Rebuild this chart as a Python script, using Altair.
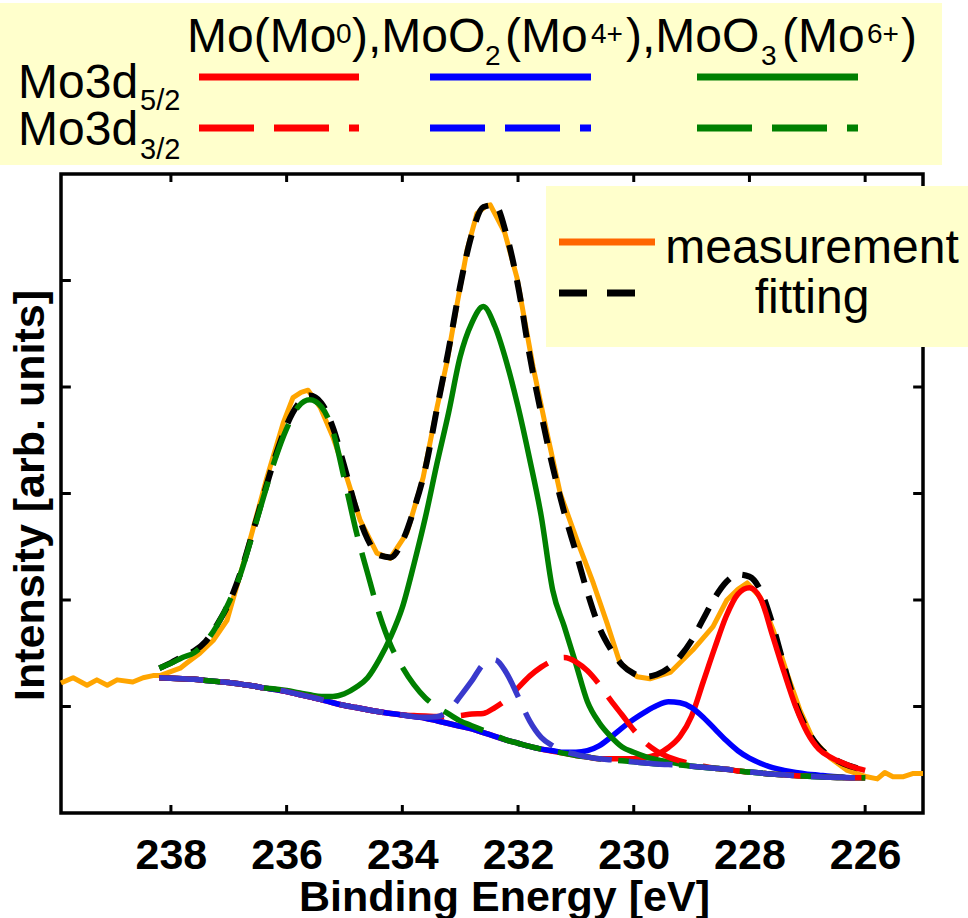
import altair as alt
import pandas as pd

# ---------------- data ----------------
# measured spectrum (orange)
MEAS_E = [239.90, 239.69, 239.45, 239.28, 239.10, 238.93, 238.66, 238.48, 238.31, 238.19,
          237.84, 237.72, 237.50, 237.27, 237.03, 236.93, 236.68, 236.34, 236.06, 235.89,
          235.75, 235.63, 235.42, 235.20, 234.96, 234.73, 234.44, 234.21, 233.92, 233.64,
          233.40, 233.23, 233.05, 232.88, 232.71, 232.55, 232.48, 232.23, 232.02, 231.74,
          231.50, 231.27, 230.98, 230.70, 230.46, 230.24, 229.94, 229.72, 229.37, 228.98,
          228.63, 228.39, 228.20, 228.04, 227.82, 227.59, 227.35, 227.13, 226.90, 226.61,
          226.31, 225.97, 225.79, 225.66, 225.52, 225.35, 225.18, 225.00]
MEAS_I = [1.22, 1.27, 1.20, 1.25, 1.20, 1.25, 1.23, 1.27, 1.29, 1.29,
          1.36, 1.41, 1.50, 1.62, 1.81, 2.00, 2.47, 3.15, 3.66, 3.90,
          3.95, 3.97, 3.81, 3.53, 3.15, 2.75, 2.44, 2.39, 2.63, 3.15,
          3.81, 4.23, 4.79, 5.29, 5.63, 5.70, 5.71, 5.45, 5.03, 4.19,
          3.57, 3.00, 2.56, 2.16, 1.78, 1.41, 1.28, 1.26, 1.32, 1.53,
          1.75, 2.00, 2.10, 2.16, 2.03, 1.72, 1.31, 0.97, 0.69, 0.52,
          0.40, 0.34, 0.32, 0.38, 0.34, 0.34, 0.37, 0.37]

# energy grid of the fitted curves
FIT_E = [238.2, 238.0, 237.8, 237.6, 237.4, 237.2, 237.0, 236.8, 236.6, 236.4,
         236.2, 236.0, 235.8, 235.6, 235.4, 235.2, 235.0, 234.8, 234.6, 234.4,
         234.2, 234.0, 233.8, 233.6, 233.4, 233.2, 233.0, 232.8, 232.6, 232.4,
         232.2, 232.0, 231.8, 231.6, 231.4, 231.2, 231.0, 230.8, 230.6, 230.4,
         230.2, 230.0, 229.8, 229.6, 229.4, 229.2, 229.0, 228.8, 228.6, 228.4,
         228.2, 228.0, 227.8, 227.6, 227.4, 227.2, 227.0, 226.8, 226.6, 226.4,
         226.2, 226.0]

# total fitted envelope (black dashed)
FIT_I = [1.36, 1.41, 1.47, 1.52, 1.61, 1.77, 1.97, 2.25, 2.61, 2.98,
         3.34, 3.64, 3.84, 3.92, 3.85, 3.62, 3.25, 2.86, 2.57, 2.42,
         2.40, 2.55, 2.85, 3.24, 3.80, 4.35, 4.95, 5.43, 5.69, 5.71,
         5.43, 4.95, 4.30, 3.75, 3.25, 2.82, 2.45, 2.07, 1.75, 1.54,
         1.39, 1.31, 1.28, 1.30, 1.36, 1.47, 1.62, 1.82, 2.02, 2.17,
         2.24, 2.22, 2.08, 1.77, 1.38, 1.02, 0.78, 0.62, 0.53, 0.47,
         0.43, 0.40]

# background shared by all fitted components
BASELINE = [1.27, 1.265, 1.26, 1.255, 1.245, 1.235, 1.225, 1.21, 1.195, 1.175,
            1.16, 1.14, 1.115, 1.09, 1.065, 1.035, 1.01, 0.99, 0.97, 0.95,
            0.935, 0.92, 0.905, 0.89, 0.865, 0.84, 0.815, 0.79, 0.755, 0.72,
            0.685, 0.655, 0.625, 0.60, 0.58, 0.56, 0.54, 0.525, 0.51, 0.50,
            0.49, 0.48, 0.47, 0.46, 0.455, 0.45, 0.44, 0.43, 0.42, 0.41,
            0.395, 0.385, 0.375, 0.365, 0.36, 0.35, 0.345, 0.34, 0.335, 0.333,
            0.33, 0.33]

# height of each component above the background, on FIT_E
MO_D52 = [0, 0, 0, 0, 0, 0, 0, 0, 0, 0,
          0, 0, 0, 0, 0, 0, 0, 0, 0, 0,
          0, 0, 0, 0, 0, 0, 0, 0, 0, 0,
          0, 0, 0, 0, 0, 0, 0, 0, 0, 0.01,
          0.02, 0.03, 0.05, 0.09, 0.16, 0.27, 0.47, 0.80, 1.13, 1.44,
          1.66, 1.73, 1.63, 1.30, 0.96, 0.65, 0.41, 0.26, 0.19, 0.14,
          0.10, 0.07]
MOO2_D52 = [0, 0, 0, 0, 0, 0, 0, 0, 0, 0,
            0, 0, 0, 0, 0, 0, 0, 0, 0, 0,
            0, 0, 0, 0, 0, 0, 0, 0, 0, 0,
            0, 0, 0, 0, 0.005, 0.01, 0.03, 0.06, 0.12, 0.21,
            0.31, 0.40, 0.48, 0.55, 0.59, 0.585, 0.55, 0.47, 0.37, 0.27,
            0.19, 0.13, 0.09, 0.06, 0.04, 0.03, 0.02, 0.015, 0.01, 0.005,
            0, 0]
MOO3_D52 = [0, 0, 0, 0, 0, 0, 0, 0, 0, 0,
            0.005, 0.01, 0.015, 0.02, 0.03, 0.06, 0.11, 0.19, 0.30, 0.49,
            0.72, 1.01, 1.43, 1.89, 2.42, 2.92, 3.47, 3.81, 4.00, 3.85,
            3.55, 3.16, 2.70, 2.19, 1.51, 1.19, 0.86, 0.52, 0.34, 0.22,
            0.13, 0.09, 0.06, 0.04, 0.025, 0.01, 0, 0, 0, 0,
            0, 0, 0, 0, 0, 0, 0, 0, 0, 0,
            0, 0]
MO_D32 = [0, 0, 0, 0, 0, 0, 0, 0, 0, 0,
          0, 0, 0, 0, 0, 0, 0, 0, 0, 0,
          0, 0, 0.01, 0.02, 0.04, 0.07, 0.10, 0.14, 0.18, 0.27,
          0.38, 0.52, 0.66, 0.77, 0.85, 0.90, 0.88, 0.81, 0.70, 0.56,
          0.43, 0.30, 0.19, 0.12, 0.07, 0.04, 0.02, 0.01, 0, 0,
          0, 0, 0, 0, 0, 0, 0, 0, 0, 0,
          0, 0]
MOO2_D32 = [0, 0, 0, 0, 0, 0, 0, 0, 0, 0,
            0, 0, 0, 0, 0, 0, 0, 0, 0, 0,
            0, 0, 0, 0.01, 0.04, 0.12, 0.28, 0.45, 0.64, 0.72,
            0.63, 0.44, 0.24, 0.11, 0.05, 0.02, 0.01, 0, 0, 0,
            0, 0, 0, 0, 0, 0, 0, 0, 0, 0,
            0, 0, 0, 0, 0, 0, 0, 0, 0, 0,
            0, 0]
MOO3_D32 = [0.09, 0.14, 0.20, 0.25, 0.36, 0.53, 0.75, 1.03, 1.40, 1.79,
            2.16, 2.47, 2.70, 2.79, 2.75, 2.55, 2.12, 1.66, 1.28, 0.92,
            0.64, 0.45, 0.30, 0.19, 0.13, 0.09, 0.05, 0.03, 0.02, 0.01,
            0, 0, 0, 0, 0, 0, 0, 0, 0, 0,
            0, 0, 0, 0, 0, 0, 0, 0, 0, 0,
            0, 0, 0, 0, 0, 0, 0, 0, 0, 0,
            0, 0]

X_TICKS = [238, 236, 234, 232, 230, 228, 226]
Y_TICKS = [1, 2, 3, 4, 5]
X_DOMAIN = [225.0, 239.9]
Y_DOMAIN = [0, 6]

# ---------------- layout / style ----------------
W, H = 862, 639
FONT = "Liberation Sans"
RED, BLUE, GREEN = "#FF0000", "#0000FF", "#008000"
BLUE_DASH = "#3939CC"
ORANGE = "#FFA500"
BOX = "#FFFFCC"

xs = alt.Scale(domain=X_DOMAIN, reverse=True, nice=False, zero=False)
ys = alt.Scale(domain=Y_DOMAIN, nice=False, zero=False)

x_axis = alt.Axis(values=X_TICKS, format="d", ticks=False, tickSize=0, domain=False, grid=False,
                  labelFont=FONT, labelFontWeight="bold", labelFontSize=43, labelPadding=21,
                  labelColor="black", labelFlush=False,
                  title="Binding Energy [eV]", titleFont=FONT, titleFontWeight="bold",
                  titleFontSize=43, titleColor="black", titleX=443, titleY=97,
                  titleAlign="center", titleBaseline="alphabetic")
y_axis = alt.Axis(values=Y_TICKS, labels=False, ticks=False, domain=False, grid=False,
                  title="Intensity [arb. units]", titleFont=FONT, titleFontWeight="bold",
                  titleFontSize=43, titleColor="black", titleX=-18, titleY=321,
                  titleAngle=270, titleAlign="center", titleBaseline="alphabetic")

meas_df = pd.DataFrame({"E": MEAS_E, "I": MEAS_I})
meas = alt.Chart(meas_df).mark_line(color=ORANGE, strokeWidth=5, strokeJoin="round").encode(
    x=alt.X("E:Q", scale=xs, axis=x_axis),
    y=alt.Y("I:Q", scale=ys, axis=y_axis),
)

fit_df = pd.DataFrame({"E": FIT_E, "I": FIT_I})
fit = alt.Chart(fit_df).mark_line(color="black", strokeWidth=6, strokeDash=[22, 14],
                                  interpolate="monotone").encode(
    x=alt.X("E:Q", scale=xs), y=alt.Y("I:Q", scale=ys))


def component(excess, color, dash):
    df = pd.DataFrame({"E": FIT_E,
                       "I": [round(b + e, 4) for b, e in zip(BASELINE, excess)]})
    kw = dict(color=color, strokeWidth=5.5, interpolate="monotone")
    if dash:
        kw["strokeDash"] = [44, 17]
    return alt.Chart(df).mark_line(**kw).encode(
        x=alt.X("E:Q", scale=xs), y=alt.Y("I:Q", scale=ys))


comps = [
    component(MO_D52, RED, False),
    component(MOO2_D52, BLUE, False),
    component(MOO3_D52, GREEN, False),
    component(MO_D32, RED, True),
    component(MOO3_D32, GREEN, True),
    component(MOO2_D32, BLUE_DASH, True),
]

# inward ticks on all four sides
XT = 0.075   # tick length in y units (~8 px)
YT = 0.17    # tick length in x units (~10 px)
bt = pd.DataFrame({"E": X_TICKS, "a": [Y_DOMAIN[0]] * len(X_TICKS), "b": [Y_DOMAIN[0] + XT] * len(X_TICKS)})
tt = pd.DataFrame({"E": X_TICKS, "a": [Y_DOMAIN[1]] * len(X_TICKS), "b": [Y_DOMAIN[1] - XT] * len(X_TICKS)})
lt = pd.DataFrame({"I": Y_TICKS, "a": [X_DOMAIN[1]] * len(Y_TICKS), "b": [X_DOMAIN[1] - YT] * len(Y_TICKS)})
rt = pd.DataFrame({"I": Y_TICKS, "a": [X_DOMAIN[0]] * len(Y_TICKS), "b": [X_DOMAIN[0] + YT] * len(Y_TICKS)})
tick_x = [alt.Chart(d).mark_rule(color="black", strokeWidth=3).encode(
    x=alt.X("E:Q", scale=xs), y=alt.Y("a:Q", scale=ys), y2="b:Q") for d in (bt, tt)]
tick_y = [alt.Chart(d).mark_rule(color="black", strokeWidth=3).encode(
    y=alt.Y("I:Q", scale=ys), x=alt.X("a:Q", scale=xs), x2="b:Q") for d in (lt, rt)]

one = pd.DataFrame({"k": [0]})


def box(x1, x2, y1, y2):
    return alt.Chart(one).mark_rect(color=BOX).encode(
        x=alt.value(x1), x2=alt.value(x2), y=alt.value(y1), y2=alt.value(y2))


# in-plot legend
plot_box = box(485, 907, 12, 173)
leg_rules_df = pd.DataFrame({"x1": [498], "x2": [594], "y": [68], "c": ["#FF6600"]})
leg_meas = alt.Chart(leg_rules_df).mark_rule(strokeWidth=7, strokeCap="butt").encode(
    x=alt.X("x1:Q", scale=None, axis=None), x2="x2:Q",
    y=alt.Y("y:Q", scale=None, axis=None), color=alt.Color("c:N", scale=None))
leg_fit_df = pd.DataFrame({"x1": [498], "x2": [594], "y": [119], "c": ["black"]})
leg_fit = alt.Chart(leg_fit_df).mark_rule(strokeWidth=7, strokeCap="butt", strokeDash=[28, 20]).encode(
    x=alt.X("x1:Q", scale=None, axis=None), x2="x2:Q",
    y=alt.Y("y:Q", scale=None, axis=None), color=alt.Color("c:N", scale=None))
leg_text_df = pd.DataFrame({"t": ["measurement", "fitting"], "px": [751, 751], "py": [89, 139]})
leg_text = alt.Chart(leg_text_df).mark_text(font=FONT, fontSize=48, align="center",
                                            baseline="alphabetic", color="black").encode(
    x=alt.X("px:Q", scale=None, axis=None), y=alt.Y("py:Q", scale=None, axis=None), text="t:N")

# header legend
head_box = box(-61, 881, -171, -9)
H_ROW1, H_ROW2 = -97, -46
SAMPLE_X1 = [138, 369, 636]
SAMPLE_X2 = [298, 530, 797]
SAMPLE_C = [RED, BLUE, GREEN]
h_solid = alt.Chart(pd.DataFrame({"x1": SAMPLE_X1, "x2": SAMPLE_X2, "y": [H_ROW1] * 3, "c": SAMPLE_C})
                    ).mark_rule(strokeWidth=7, strokeCap="butt").encode(
    x=alt.X("x1:Q", scale=None, axis=None), x2="x2:Q",
    y=alt.Y("y:Q", scale=None, axis=None), color=alt.Color("c:N", scale=None))
h_dash = alt.Chart(pd.DataFrame({"x1": SAMPLE_X1, "x2": SAMPLE_X2, "y": [H_ROW2] * 3, "c": SAMPLE_C})
                   ).mark_rule(strokeWidth=7, strokeCap="butt", strokeDash=[55, 20]).encode(
    x=alt.X("x1:Q", scale=None, axis=None), x2="x2:Q",
    y=alt.Y("y:Q", scale=None, axis=None), color=alt.Color("c:N", scale=None))

HEAD_TEXT = ["Mo3d", "5/2", "Mo3d", "3/2",
             "Mo(Mo", "0", "),MoO", "2", "(Mo", "4+", "),MoO", "3", "(Mo", "6+", ")"]
HEAD_X = [-43, 79, -43, 79,
          126, 275, 291, 424, 444, 530, 565, 700, 721, 806, 840]
HEAD_Y = [-76, -64, -29, -15,
          -122, -131, -122, -109, -122, -131, -122, -109, -122, -131, -122]
HEAD_FS = [48, 29, 48, 29,
           48, 28, 48, 28, 48, 28, 48, 28, 48, 28, 48]
head_text = alt.Chart(pd.DataFrame({"t": HEAD_TEXT, "px": HEAD_X, "py": HEAD_Y, "fs": HEAD_FS})
                      ).mark_text(font=FONT, align="left", baseline="alphabetic", color="black").encode(
    x=alt.X("px:Q", scale=None, axis=None), y=alt.Y("py:Q", scale=None, axis=None),
    text="t:N", size=alt.Size("fs:Q", scale=None, legend=None))

chart = alt.layer(
    meas, fit, *comps, *tick_x, *tick_y,
    plot_box, leg_meas, leg_fit, leg_text,
    head_box, h_solid, h_dash, head_text,
).properties(
    width=W, height=H,
    autosize=alt.AutoSizeParams(type="none"),
    padding={"left": 61, "top": 174, "right": 45, "bottom": 105},
    background="white",
).configure_view(stroke="black", strokeWidth=3.5)

chart.save("out.html", embed_options={"renderer": "svg", "actions": False})
